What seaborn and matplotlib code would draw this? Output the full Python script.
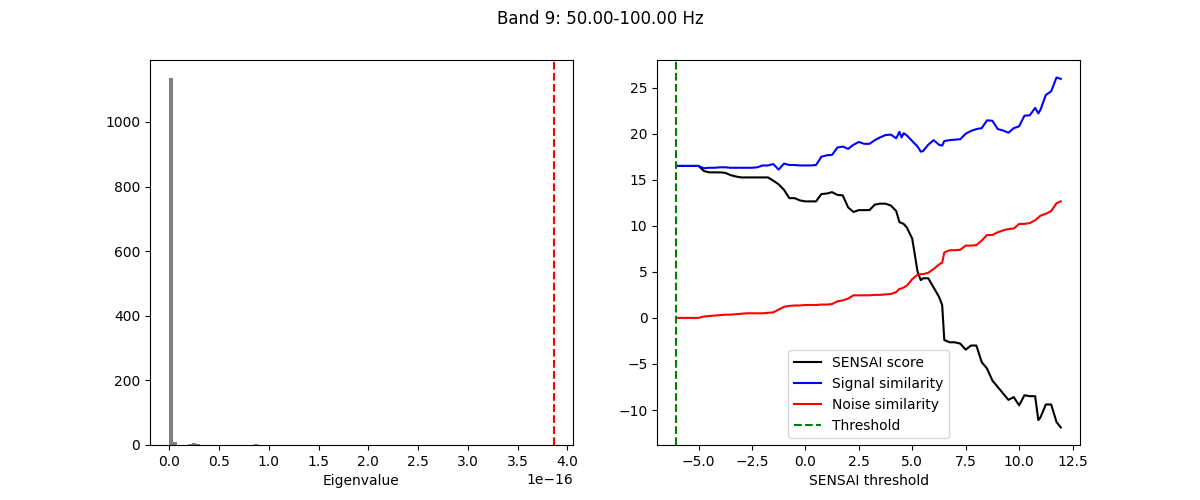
import numpy as np
import matplotlib
matplotlib.use("Agg")
import matplotlib.pyplot as plt
import seaborn as sns

# Left panel: eigenvalue histogram (bin positions and counts, x 1e-16)
eig_values = np.array([0.0, 0.05, 0.21, 0.25, 0.29, 0.87, 3.86]) * 1e-16
eig_counts = [1135, 10, 3, 6, 3, 3, 1]
eig_cutoff = 3.86e-16

# Right panel: SENSAI scores vs threshold
thresholds = [-6.03, -5.75, -5.5, -5.25, -5.0, -4.75, -4.5, -4.25, -4.0, -3.75,
              -3.5, -3.25, -3.0, -2.75, -2.5, -2.25, -2.0, -1.75, -1.5, -1.25,
              -1.0, -0.75, -0.5, -0.25, 0.0, 0.25, 0.5, 0.75, 1.0, 1.25,
              1.5, 1.75, 2.0, 2.25, 2.5, 2.75, 3.0, 3.25, 3.5, 3.75,
              4.0, 4.25, 4.4, 4.5, 4.6, 4.75, 5.0, 5.25, 5.4, 5.5,
              5.75, 6.0, 6.25, 6.4, 6.5, 6.75, 7.0, 7.25, 7.5, 7.75,
              8.0, 8.25, 8.5, 8.75, 9.0, 9.25, 9.5, 9.75, 10.0, 10.25,
              10.5, 10.75, 10.9, 11.0, 11.25, 11.5, 11.75, 11.95]

signal_sim = [16.5, 16.5, 16.5, 16.5, 16.5, 16.25, 16.3, 16.3, 16.35, 16.35,
              16.3, 16.3, 16.3, 16.3, 16.3, 16.35, 16.55, 16.55, 16.7, 16.1,
              16.75, 16.6, 16.6, 16.55, 16.55, 16.55, 16.6, 17.5, 17.65, 17.7,
              18.5, 18.6, 18.35, 18.8, 19.1, 18.9, 18.9, 19.3, 19.6, 19.85,
              19.9, 19.5, 20.2, 19.6, 20.05, 19.8, 19.2, 18.6, 18.05, 18.1,
              18.8, 19.3, 18.8, 18.7, 19.2, 19.3, 19.35, 19.4, 20.0, 20.3,
              20.5, 20.6, 21.45, 21.4, 20.5, 20.35, 20.1, 20.6, 20.8, 21.95,
              22.0, 22.8, 22.2, 22.6, 24.2, 24.6, 26.1, 25.95]

noise_sim = [0.0, 0.0, 0.0, 0.0, 0.0, 0.15, 0.2, 0.25, 0.3, 0.35,
             0.35, 0.4, 0.45, 0.5, 0.5, 0.5, 0.5, 0.55, 0.6, 0.9,
             1.2, 1.3, 1.35, 1.35, 1.4, 1.4, 1.4, 1.45, 1.45, 1.5,
             1.8, 1.9, 2.1, 2.45, 2.45, 2.45, 2.45, 2.5, 2.5, 2.55,
             2.6, 2.8, 3.15, 3.2, 3.3, 3.5, 4.2, 4.7, 4.75, 4.75,
             4.9, 5.3, 5.8, 6.0, 7.1, 7.35, 7.35, 7.4, 7.85, 7.85,
             7.9, 8.4, 9.0, 9.0, 9.3, 9.5, 9.65, 9.7, 10.2, 10.2,
             10.3, 10.6, 10.9, 11.1, 11.3, 11.6, 12.45, 12.65]

sensai_score = [16.5, 16.5, 16.5, 16.5, 16.5, 15.95, 15.8, 15.8, 15.8, 15.75,
                15.5, 15.35, 15.25, 15.25, 15.25, 15.25, 15.25, 15.25, 14.9, 14.5,
                13.9, 13.0, 13.0, 12.75, 12.65, 12.65, 12.65, 13.45, 13.5, 13.65,
                13.35, 13.3, 12.0, 11.5, 11.7, 11.7, 11.7, 12.3, 12.4, 12.4,
                12.2, 11.6, 10.4, 10.3, 10.2, 9.8, 8.6, 5.0, 4.1, 4.3,
                4.3, 3.3, 2.3, 1.4, -2.4, -2.65, -2.65, -2.8, -3.45, -3.0,
                -3.0, -4.8, -5.5, -6.8, -7.5, -8.2, -8.9, -8.6, -9.5, -8.4,
                -8.5, -8.5, -11.1, -10.8, -9.4, -9.4, -11.3, -11.9]

sensai_threshold = -6.03

fig, axes = plt.subplots(1, 2, figsize=(12, 5))
fig.suptitle('Band 9: 50.00-100.00 Hz')

# 1. Eigenvalue histogram
ax = axes[0]
sns.histplot(x=eig_values, weights=eig_counts, bins=100,
             binrange=(0, eig_cutoff), color='gray', alpha=1,
             linewidth=0, ax=ax)
ax.axvline(eig_cutoff, color='red', linestyle='--')
ax.set_xlabel('Eigenvalue')
ax.set_ylabel('')

# 2. SENSAI curves
ax = axes[1]
sns.lineplot(x=thresholds, y=sensai_score, color='black', label='SENSAI score', ax=ax)
sns.lineplot(x=thresholds, y=signal_sim, color='blue', label='Signal similarity', ax=ax)
sns.lineplot(x=thresholds, y=noise_sim, color='red', label='Noise similarity', ax=ax)
ax.axvline(sensai_threshold, color='green', linestyle='--', label='Threshold')
ax.set_xlabel('SENSAI threshold')
ax.legend(loc='lower center')

plt.savefig('out.png', dpi=100)
plt.close()
